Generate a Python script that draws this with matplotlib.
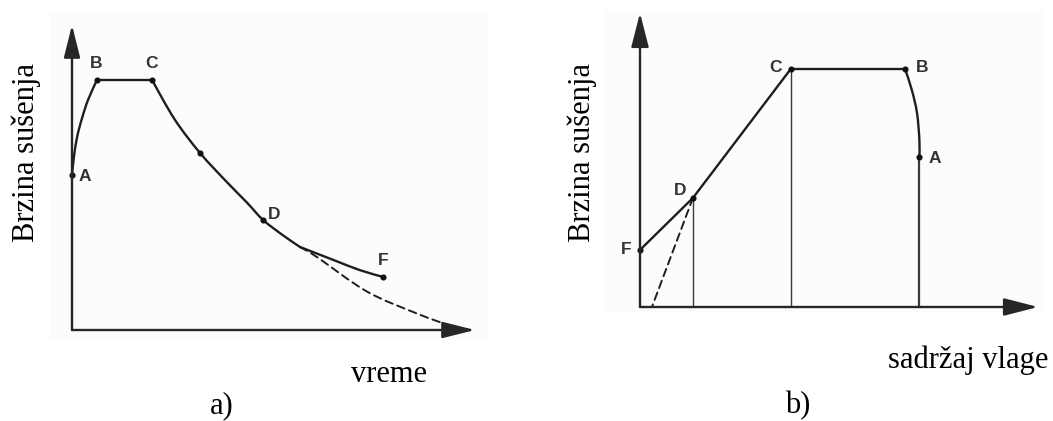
import matplotlib
matplotlib.use("Agg")
import matplotlib.pyplot as plt
from matplotlib.patches import Rectangle, PathPatch
from matplotlib.path import Path

W, H = 1053, 421

# ---- panel a): drying rate versus time ----
a_rise_x = [0.0, 0.5, 1.3, 2.5, 4.0, 6.2]            # A -> B
a_rise_y = [50.8, 57.0, 63.5, 69.5, 75.5, 82.0]
a_const_x = [6.2, 19.85]                               # B -> C
a_const_y = [82.0, 82.0]
a_fall_x = [19.85, 25.5, 31.8, 38.5, 43.4, 47.4, 52.4, 56.6]   # C -> D
a_fall_y = [82.0, 69.0, 58.0, 48.4, 41.8, 36.1, 31.0, 27.2]
a_tail_x = [56.6, 64.8, 71.5, 77.2]                    # -> F
a_tail_y = [27.2, 23.0, 19.6, 17.4]
a_dash_x = [56.6, 60.8, 73.2, 85.6, 93.8]              # extrapolation
a_dash_y = [27.2, 23.9, 12.6, 5.4, 1.4]
a_pts_name = ["A", "B", "C", "", "D", "F"]
a_pts_x = [0.0, 6.2, 19.85, 31.8, 47.4, 77.2]
a_pts_y = [50.8, 82.0, 82.0, 58.0, 36.1, 17.4]

# ---- panel b): drying rate versus moisture content ----
b_fd_x = [0.0, 13.3]                                   # F -> D
b_fd_y = [19.4, 37.1]
b_dc_x = [13.3, 37.9]                                  # D -> C
b_dc_y = [37.1, 81.0]
b_cb_x = [37.9, 66.6]                                  # C -> B
b_cb_y = [81.0, 81.0]
b_ba_x = [66.6, 68.3, 69.6, 70.2, 70.2]                # B -> A
b_ba_y = [81.0, 73.8, 66.0, 56.8, 51.0]
b_dash_x = [13.3, 3.0]
b_dash_y = [37.1, 0.0]
b_drop_x = [13.3, 37.9, 70.2]                          # verticals down to the axis
b_drop_y = [37.1, 81.0, 51.0]
b_pts_name = ["F", "D", "C", "B", "A"]
b_pts_x = [0.0, 13.3, 37.9, 66.6, 70.2]
b_pts_y = [19.4, 37.1, 81.0, 81.0, 51.0]

ylabel = "Brzina sušenja"
xlabel_a = "vreme"
xlabel_b = "sadržaj vlage"
tag_a = "a)"
tag_b = "b)"

LINE = "#1e1e1e"
SERIF = ["Liberation Serif", "DejaVu Serif"]
SANS = ["Liberation Sans", "DejaVu Sans"]

fig = plt.figure(figsize=(W / 100, H / 100), dpi=100)
fig.patch.set_facecolor("white")


def px_rect(x0, y0, x1, y1):
    return [x0 / W, 1 - y1 / H, (x1 - x0) / W, (y1 - y0) / H]


# faint paper tone behind each scanned sketch
for x0, y0, x1, y1 in [(50, 12, 488, 340), (605, 10, 1045, 313)]:
    fig.add_artist(Rectangle((x0 / W, 1 - y1 / H), (x1 - x0) / W, (y1 - y0) / H,
                             transform=fig.transFigure, facecolor="#fcfcfc",
                             edgecolor="none", zorder=0))


def setup(ax, head_len, head_w):
    ax.set_xlim(0, 100)
    ax.set_ylim(0, 100)
    ax.axis("off")
    ax.set_facecolor("none")
    style = f"-|>,head_length={head_len},head_width={head_w}"
    for tip in [(100, 0), (0, 100)]:
        ax.annotate("", xy=tip, xytext=(0, 0),
                    arrowprops=dict(arrowstyle=style, mutation_scale=20,
                                    lw=1.7, color="#262626",
                                    shrinkA=0, shrinkB=0),
                    annotation_clip=False)


def smooth_path(x, y):
    """Cubic Bezier path passing through every given point (Catmull-Rom)."""
    pts = list(zip(x, y))
    if len(pts) < 3:
        return Path(pts)
    verts = [pts[0]]
    codes = [Path.MOVETO]
    for i in range(len(pts) - 1):
        p0 = pts[i - 1] if i > 0 else pts[i]
        p1, p2 = pts[i], pts[i + 1]
        p3 = pts[i + 2] if i + 2 < len(pts) else pts[i + 1]
        c1 = (p1[0] + (p2[0] - p0[0]) / 6, p1[1] + (p2[1] - p0[1]) / 6)
        c2 = (p2[0] - (p3[0] - p1[0]) / 6, p2[1] - (p3[1] - p1[1]) / 6)
        verts += [c1, c2, p2]
        codes += [Path.CURVE4] * 3
    return Path(verts, codes)


def curve(ax, x, y, color=LINE, lw=1.7, ls="-"):
    patch = PathPatch(smooth_path(x, y), facecolor="none", edgecolor=color,
                      lw=lw, ls=ls, capstyle="round", joinstyle="round",
                      clip_on=False)
    ax.add_patch(patch)


# panel a)
axa = fig.add_axes(px_rect(72, 25, 475, 330))
setup(axa, 1.0, 0.25)
curve(axa, a_rise_x, a_rise_y)
curve(axa, a_const_x, a_const_y)
curve(axa, a_fall_x, a_fall_y)
curve(axa, a_tail_x, a_tail_y)
curve(axa, a_dash_x, a_dash_y, ls=(0, (4, 2.5)), lw=1.4)
axa.plot(a_pts_x, a_pts_y, "o", ms=3.4, color="#111111", clip_on=False)
a_offsets = {"A": (9, -1), "B": (-0.5, 12), "C": (-0.5, 12), "D": (8, 4), "F": (0, 12)}
for n, x, y in zip(a_pts_name, a_pts_x, a_pts_y):
    if n:
        dx, dy = a_offsets[n]
        axa.annotate(n, (x, y), xytext=(dx, dy), textcoords="offset points",
                     ha="center", va="center", fontsize=12.5, weight="bold",
                     family=SANS, color="#333333", annotation_clip=False)

# panel b)
axb = fig.add_axes(px_rect(640, 13, 1038, 307))
setup(axb, 1.05, 0.27)
curve(axb, b_fd_x, b_fd_y)
curve(axb, b_dc_x, b_dc_y)
curve(axb, b_cb_x, b_cb_y)
curve(axb, b_ba_x, b_ba_y)
curve(axb, b_dash_x, b_dash_y, ls=(0, (4, 2.5)), lw=1.4)
for x, y in zip(b_drop_x, b_drop_y):
    lw = 1.6 if x == b_drop_x[-1] else 1.0
    curve(axb, [x, x], [0, y], lw=lw, color="#3a3a3a")
axb.plot(b_pts_x, b_pts_y, "o", ms=3.4, color="#111111", clip_on=False)
b_offsets = {"F": (-10, 0), "D": (-9, 5), "C": (-11, 1), "B": (12, 1), "A": (11, -1)}
for n, x, y in zip(b_pts_name, b_pts_x, b_pts_y):
    dx, dy = b_offsets[n]
    axb.annotate(n, (x, y), xytext=(dx, dy), textcoords="offset points",
                 ha="center", va="center", fontsize=12.5, weight="bold",
                 family=SANS, color="#333333", annotation_clip=False)


def ftext(x, y, s, **kw):
    fig.text(x / W, 1 - y / H, s, family=SERIF, fontsize=22, color="black", **kw)


ftext(26, 153, ylabel, rotation=90, ha="center", va="center")
ftext(582, 153, ylabel, rotation=90, ha="center", va="center")
ftext(389, 382, xlabel_a, ha="center", va="baseline")
ftext(1048, 368, xlabel_b, ha="right", va="baseline")
ftext(222, 413, tag_a, ha="center", va="baseline")
ftext(798, 413, tag_b, ha="center", va="baseline")

fig.savefig("out.png", dpi=100, facecolor="white")
